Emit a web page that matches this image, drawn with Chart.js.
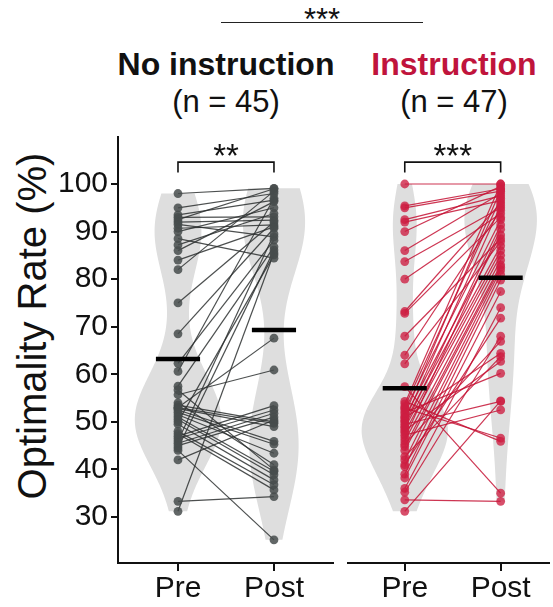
<!DOCTYPE html>
<html>
<head>
<meta charset="utf-8">
<script src="https://cdn.jsdelivr.net/npm/chart.js@4.4.0/dist/chart.umd.min.js"></script>
<style>
  body {
    margin: 0;
    width: 553px;
    height: 607px;
    overflow: hidden;
    position: relative;
    background: #fff;
    font-family: "Liberation Sans", Arial, Helvetica, sans-serif;
    color: #111;
  }
  .txt {
    position: absolute;
    white-space: nowrap;
    line-height: 1;
    transform: translateX(-50%);
  }
  .group { font-size: 32px; font-weight: bold; }
  .count { font-size: 31px; }
  .stars { font-size: 31px; }
  #topBar {
    position: absolute;
    left: 221px;
    top: 22px;
    width: 202px;
    border-top: 1.5px solid #222;
  }
  #yTitle {
    position: absolute;
    left: 32px;
    top: 326px;
    font-size: 40px;
    line-height: 1;
    white-space: nowrap;
    transform: translate(-50%, -50%) rotate(-90deg);
  }
  canvas { position: absolute; top: 130px; }
</style>
</head>
<body>

<div class="txt stars" style="left:322px; top:4px">***</div>
<div id="topBar"></div>
<div class="txt group" style="left:226px; top:48px">No instruction</div>
<div class="txt group" style="left:454px; top:48px; color:#c0143c">Instruction</div>
<div class="txt count" style="left:226px; top:86px">(n = 45)</div>
<div class="txt count" style="left:454px; top:86px">(n = 47)</div>
<div id="yTitle">Optimality Rate (%)</div>

<canvas id="chartNoInstr" width="340" height="477" style="left:0"></canvas>
<canvas id="chartInstr" width="213" height="477" style="left:340px"></canvas>

<script>
// Optimality rate (%) per participant; pre[i] and post[i] belong to the same person
const noInstrPre = [98, 95, 93.5, 93, 92.5, 92, 91.5, 90.7, 90, 88.5, 87.2, 86, 84, 82,
  75, 68.5, 62.3, 60.6, 57.5, 50, 46, 44.5, 31.2,
  53, 55.7, 33.3, 44, 56.7, 54, 47, 46.5, 45.5, 45, 42, 53.5, 53, 52.8, 52.5, 52,
  51.5, 51, 50.5, 49.5, 48, 47.5];
const noInstrPost = [99.1, 98, 96.6, 93.1, 99, 92.4, 88.9, 91.4, 95, 84.4, 93.8, 96.3, 91, 98.5,
  92, 90.7, 88.2, 97, 86.8, 85.1, 89.5, 86.1, 85.5,
  67.6, 60.9, 34.3, 25.2, 39.9, 41, 53.4, 52.5, 51.8, 51, 50.4, 50, 49.7, 49, 45.9, 45.3,
  43.4, 39.6, 38.9, 37.8, 36.8, 35.7];

const instrPre = [100, 95.4, 95, 92.5, 92, 90, 86, 83.7, 80, 73.2, 72.8, 68, 64, 62.2, 57.4,
  54.3, 53.8, 53.2, 52.9, 52.5, 52, 51.5, 51, 50.8, 50.3, 50, 49.5, 49, 48.7, 48.2, 47.8,
  47.2, 46.6, 46, 45.3, 44.8, 44, 42.7, 42, 41, 40.6, 39, 38.2, 36, 35.2, 33.6, 31.2];
const instrPost = [100, 99, 98.5, 97.5, 96.5, 99.5, 98, 95, 93.8, 96, 93, 88.5, 94.5, 87.9, 35,
  45.9, 100, 97, 46.6, 92.5, 60.2, 98.8, 89.3, 64.4, 95.5, 87, 54.3, 91.4, 86, 62.7, 85,
  52.5, 90.5, 84, 66.9, 83, 82.5, 63.7, 81.9, 71.8, 81, 79.8, 77.4, 74, 68, 33.3, 54.4];

const timepoints = ['Pre', 'Post'];
const yTicks = [30, 40, 50, 60, 70, 80, 90, 100];

const FONT = '"Liberation Sans", Arial, Helvetica, sans-serif';
const INK = '#111';
const Y_MIN = 20.33;
const Y_MAX = 109.88;

const mean = (arr) => arr.reduce((a, b) => a + b, 0) / arr.length;

// Silverman's rule of thumb (same as R's bw.nrd0)
function bandwidth(vals) {
  const n = vals.length;
  const m = mean(vals);
  const sd = Math.sqrt(vals.reduce((a, v) => a + (v - m) ** 2, 0) / (n - 1));
  const s = [...vals].sort((a, b) => a - b);
  const q = (p) => {
    const h = (n - 1) * p;
    const lo = Math.floor(h);
    return s[lo] + (h - lo) * (s[Math.min(lo + 1, n - 1)] - s[lo]);
  };
  const iqr = (q(0.75) - q(0.25)) / 1.34;
  return 0.9 * Math.min(sd, iqr) * Math.pow(n, -0.2);
}

// Gaussian KDE evaluated between the data min and max (trimmed violin)
function density(vals, steps = 150) {
  const bw = bandwidth(vals);
  const lo = Math.min(...vals);
  const hi = Math.max(...vals);
  const norm = vals.length * bw * Math.sqrt(2 * Math.PI);
  const out = [];
  for (let i = 0; i <= steps; i++) {
    const y = lo + ((hi - lo) * i) / steps;
    let d = 0;
    vals.forEach((v) => {
      const z = (y - v) / bw;
      d += Math.exp(-0.5 * z * z);
    });
    out.push({ y, d: d / norm });
  }
  return out;
}

// Violins behind the paired points, widths scaled per panel
function violinPlugin(groups) {
  return {
    id: 'violins',
    beforeDatasetsDraw(chart) {
      const { ctx, chartArea, scales } = chart;
      const curves = groups.map((g) => density(g));
      const peak = Math.max(...curves.flatMap((c) => c.map((p) => p.d)));
      ctx.save();
      ctx.beginPath();
      ctx.rect(chartArea.left, chartArea.top, chartArea.right - chartArea.left, chartArea.bottom - chartArea.top);
      ctx.clip();
      ctx.fillStyle = '#dedede';
      curves.forEach((curve, k) => {
        const cx = k + 1;
        ctx.beginPath();
        curve.forEach((p, i) => {
          const px = scales.x.getPixelForValue(cx + (0.45 * p.d) / peak);
          const py = scales.y.getPixelForValue(p.y);
          if (i === 0) ctx.moveTo(px, py);
          else ctx.lineTo(px, py);
        });
        for (let i = curve.length - 1; i >= 0; i--) {
          const p = curve[i];
          ctx.lineTo(scales.x.getPixelForValue(cx - (0.45 * p.d) / peak), scales.y.getPixelForValue(p.y));
        }
        ctx.closePath();
        ctx.fill();
      });
      ctx.restore();
    },
  };
}

// Significance bracket between Pre and Post
function bracketPlugin(label) {
  return {
    id: 'bracket',
    afterDatasetsDraw(chart) {
      const { ctx, scales } = chart;
      const x1 = scales.x.getPixelForValue(1);
      const x2 = scales.x.getPixelForValue(2);
      const yTop = scales.y.getPixelForValue(104.6);
      const yEnd = scales.y.getPixelForValue(102.4);
      ctx.save();
      ctx.strokeStyle = INK;
      ctx.lineWidth = 1.6;
      ctx.beginPath();
      ctx.moveTo(x1, yEnd);
      ctx.lineTo(x1, yTop);
      ctx.lineTo(x2, yTop);
      ctx.lineTo(x2, yEnd);
      ctx.stroke();
      ctx.fillStyle = INK;
      ctx.font = '33px ' + FONT;
      ctx.textAlign = 'center';
      ctx.textBaseline = 'alphabetic';
      const m = ctx.measureText(label);
      const cy = yTop - 12;
      ctx.fillText(label, (x1 + x2) / 2, cy + (m.actualBoundingBoxAscent - m.actualBoundingBoxDescent) / 2);
      ctx.restore();
    },
  };
}

function buildPanel(canvasId, pre, post, look) {
  const pairLines = pre.map((v, i) => ({
    type: 'line',
    data: [{ x: 1, y: v }, { x: 2, y: post[i] }],
    borderColor: look.line,
    borderWidth: 1.2,
    pointRadius: 0,
    order: 3,
  }));
  const dots = {
    type: 'scatter',
    data: pre.map((v) => ({ x: 1, y: v })).concat(post.map((v) => ({ x: 2, y: v }))),
    backgroundColor: look.dot,
    borderWidth: 0,
    pointRadius: 4.4,
    order: 2,
  };
  const meanBars = [pre, post].map((vals, k) => {
    const m = mean(vals);
    return {
      type: 'line',
      data: [{ x: k + 1 - 0.23, y: m }, { x: k + 1 + 0.23, y: m }],
      borderColor: '#000',
      borderWidth: 4.5,
      pointRadius: 0,
      order: 1,
    };
  });

  return new Chart(document.getElementById(canvasId), {
    type: 'scatter',
    data: { datasets: [...pairLines, dots, ...meanBars] },
    plugins: [violinPlugin([pre, post]), bracketPlugin(look.stars)],
    options: {
      responsive: false,
      animation: false,
      layout: { padding: look.padding },
      plugins: { legend: { display: false }, tooltip: { enabled: false } },
      scales: {
        x: {
          type: 'linear',
          min: look.xMin,
          max: look.xMax,
          afterBuildTicks: (s) => { s.ticks = timepoints.map((_, i) => ({ value: i + 1 })); },
          afterFit: (s) => { s.height = 44; s.paddingLeft = 0; s.paddingRight = 0; },
          ticks: {
            callback: (v) => timepoints[v - 1],
            font: { size: 30, family: FONT },
            color: INK,
            padding: 0,
            maxRotation: 0,
            autoSkip: false,
          },
          grid: { drawOnChartArea: false, tickLength: 8, color: INK, lineWidth: 2 },
          border: { color: INK, width: 2 },
        },
        y: {
          type: 'linear',
          display: look.yWidth > 0,
          min: Y_MIN,
          max: Y_MAX,
          afterBuildTicks: (s) => { s.ticks = yTicks.map((v) => ({ value: v })); },
          afterFit: (s) => { s.width = look.yWidth; s.paddingTop = 0; s.paddingBottom = 0; },
          ticks: {
            font: { size: 30, family: FONT },
            color: INK,
            padding: 3,
          },
          grid: { drawOnChartArea: false, tickLength: 7, color: INK, lineWidth: 2 },
          border: { color: INK, width: 2 },
        },
      },
    },
  });
}

buildPanel('chartNoInstr', noInstrPre, noInstrPost, {
  line: 'rgba(45, 48, 48, 0.85)',
  dot: 'rgba(70, 76, 76, 0.85)',
  stars: '**',
  xMin: 0.375,
  xMax: 2.615,
  yWidth: 118,
  padding: { top: 7, right: 7, left: 0, bottom: 0 },
});

buildPanel('chartInstr', instrPre, instrPost, {
  line: 'rgba(196, 18, 52, 0.85)',
  dot: 'rgba(205, 30, 65, 0.78)',
  stars: '***',
  xMin: 0.408,
  xMax: 2.5,
  yWidth: 0,
  padding: { top: 7, right: 0, left: 8, bottom: 0 },
});
</script>
</body>
</html>
